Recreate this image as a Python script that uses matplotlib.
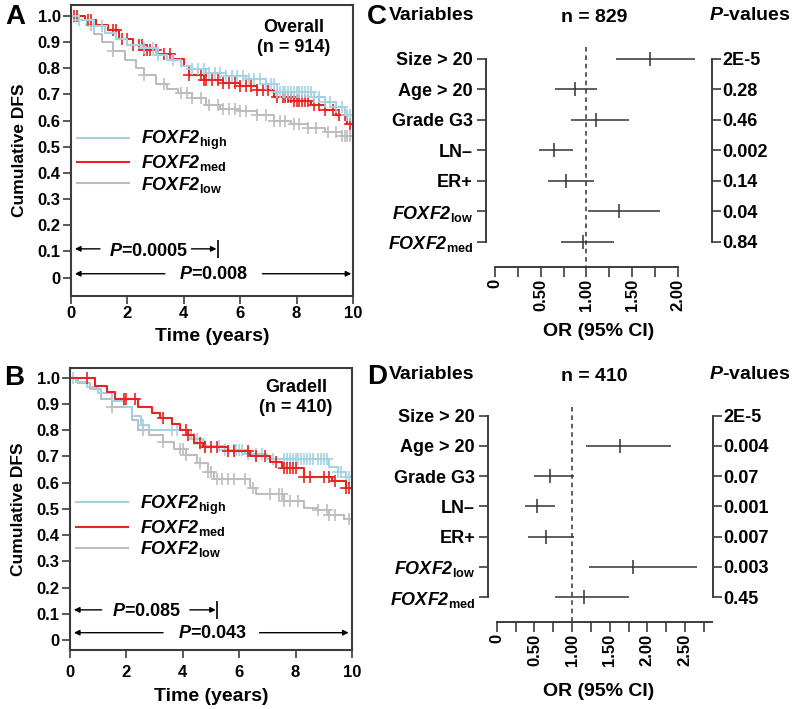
import numpy as np
import matplotlib
matplotlib.use("Agg")
import matplotlib.pyplot as plt
from matplotlib.lines import Line2D

plt.rcParams['font.family'] = ['Liberation Sans', 'DejaVu Sans']
plt.rcParams['font.weight'] = 'bold'
plt.rcParams['mathtext.fontset'] = 'custom'
plt.rcParams['mathtext.rm'] = 'Liberation Sans'
plt.rcParams['mathtext.it'] = 'Liberation Sans:italic'
plt.rcParams['mathtext.bf'] = 'Liberation Sans:bold'
plt.rcParams['mathtext.bfit'] = 'Liberation Sans:italic:bold'

# ---------------- Kaplan-Meier data ----------------
A_high_t = [0, 0.3, 0.8, 1.2, 1.6, 2.0, 2.5, 3.0, 3.4, 3.9, 4.3, 4.8, 5.5, 6.2, 6.9, 7.3, 8.6, 9.0, 9.4, 9.7]
A_high_s = [1.0, 0.985, 0.96, 0.935, 0.91, 0.89, 0.875, 0.85, 0.83, 0.81, 0.795, 0.78, 0.77, 0.76, 0.74, 0.71, 0.69, 0.67, 0.65, 0.62]
A_med_t = [0, 0.5, 0.9, 1.3, 1.7, 2.2, 2.6, 3.1, 3.6, 4.0, 4.2, 4.7, 5.4, 6.0, 6.6, 7.2, 7.9, 8.5, 9.0, 9.4, 9.8]
A_med_s = [1.0, 0.985, 0.965, 0.945, 0.91, 0.89, 0.87, 0.855, 0.835, 0.81, 0.775, 0.755, 0.745, 0.73, 0.715, 0.69, 0.675, 0.66, 0.64, 0.62, 0.585]
A_low_t = [0, 0.3, 0.55, 0.8, 1.1, 1.5, 1.9, 2.3, 2.6, 3.0, 3.4, 3.8, 4.3, 4.8, 5.3, 6.0, 6.6, 7.2, 7.8, 8.4, 9.0, 9.6]
A_low_s = [1.0, 0.985, 0.965, 0.93, 0.9, 0.865, 0.83, 0.80, 0.775, 0.74, 0.72, 0.705, 0.685, 0.66, 0.645, 0.635, 0.62, 0.60, 0.585, 0.57, 0.555, 0.54]

A_high_cens = [0.3, 0.8, 1.1, 2.6, 2.9, 3.1, 3.6, 4.3, 4.5, 4.7, 4.9, 5.1, 5.3, 5.5, 5.7, 5.9, 6.1, 6.3,
               6.5, 6.7, 6.9, 7.1, 7.2, 7.3, 7.4, 7.5, 7.6, 7.7, 7.8, 7.9, 8.0, 8.1, 8.2, 8.3, 8.4,
               8.5, 8.6, 8.8, 9.0, 9.2, 9.4, 9.6, 9.8, 9.9]
A_med_cens = [0.1, 0.2, 0.6, 0.7, 1.5, 1.6, 1.8, 2.0, 2.2, 2.4, 2.5, 2.6, 2.7, 2.8, 3.0, 3.3, 3.5,
              4.2, 4.6, 4.7, 4.8, 5.0, 5.2, 5.4, 5.6, 5.8, 6.0, 6.2, 6.4, 6.6, 6.8, 7.0, 7.3, 7.5,
              7.6, 7.7, 7.8, 7.9, 8.0, 8.1, 8.2, 8.3, 8.4, 8.6, 8.8, 9.0, 9.3, 9.5, 9.7, 9.9]
A_low_cens = [0.2, 0.7, 1.5, 2.6, 3.3, 3.9, 4.1, 4.3, 4.6, 4.9, 5.2, 5.4, 5.6, 5.8, 6.0, 6.2, 6.6,
              6.9, 7.2, 7.4, 7.6, 7.9, 8.1, 8.4, 8.7, 9.1, 9.4, 9.6, 9.7, 9.8, 9.9]

B_high_t = [0, 0.2, 0.6, 1.0, 1.5, 1.9, 2.2, 2.5, 2.8, 4.3, 4.7, 5.5, 6.2, 7.0, 9.2, 9.5, 9.8]
B_high_s = [1.0, 0.985, 0.965, 0.94, 0.91, 0.89, 0.855, 0.82, 0.80, 0.765, 0.74, 0.725, 0.71, 0.69, 0.66, 0.64, 0.62]
B_med_t = [0, 0.9, 1.3, 1.6, 2.4, 2.9, 3.2, 3.6, 3.9, 4.2, 4.4, 4.7, 5.6, 6.4, 7.1, 7.5, 8.3, 9.3, 9.8]
B_med_s = [1.0, 0.97, 0.945, 0.92, 0.89, 0.865, 0.845, 0.825, 0.80, 0.78, 0.75, 0.735, 0.72, 0.70, 0.68, 0.655, 0.62, 0.605, 0.58]
B_low_t = [0, 0.3, 0.7, 1.1, 1.5, 2.2, 2.4, 2.8, 3.3, 3.7, 4.1, 4.5, 4.9, 5.1, 6.4, 6.6, 7.6, 8.3, 8.8, 9.2, 9.7]
B_low_s = [1.0, 0.98, 0.955, 0.92, 0.89, 0.84, 0.80, 0.78, 0.755, 0.73, 0.705, 0.675, 0.64, 0.615, 0.58, 0.555, 0.53, 0.505, 0.495, 0.475, 0.46]

B_high_cens = [0.1, 2.6, 3.6, 3.8, 4.4, 4.5, 4.8, 5.3, 5.5, 5.8, 5.9, 6.0, 6.1, 6.3, 6.6, 6.8, 7.2,
               7.6, 7.7, 7.8, 7.9, 8.0, 8.1, 8.2, 8.3, 8.4, 8.5, 8.6, 8.8, 8.9, 9.0, 9.1, 9.5, 9.6, 9.8, 9.9]
B_med_cens = [0.6, 1.9, 2.0, 2.3, 3.3, 4.1, 4.2, 4.6, 4.8, 5.0, 5.2, 5.6, 5.8, 6.3, 6.6, 6.9, 7.3,
              7.6, 7.7, 7.8, 7.9, 8.0, 8.3, 8.5, 9.0, 9.2, 9.4, 9.8, 9.9]
B_low_cens = [1.5, 2.6, 3.3, 3.9, 4.0, 4.1, 4.6, 4.9, 5.0, 5.2, 5.4, 5.6, 5.8, 6.2, 6.5, 7.1, 7.4,
              7.5, 7.6, 7.8, 8.1, 8.8, 9.1, 9.2, 9.4, 9.9]

# ---------------- forest plot data ----------------
variables = ['Size > 20', 'Age > 20', 'Grade G3', 'LN\u2013', 'ER+',
             r'$\mathbfit{FOXF2}_{\mathbf{low}}$', r'$\mathbfit{FOXF2}_{\mathbf{med}}$']
C_or = [1.69, 0.87, 1.11, 0.645, 0.78, 1.355, 0.965]
C_lo = [1.32, 0.66, 0.83, 0.485, 0.575, 1.02, 0.725]
C_hi = [2.19, 1.12, 1.47, 0.85, 1.08, 1.80, 1.30]
C_p = ['2E-5', '0.28', '0.46', '0.002', '0.14', '0.04', '0.84']

D_or = [np.nan, 1.64, 0.71, 0.54, 0.655, 1.81, 1.16]
D_lo = [np.nan, 1.18, 0.49, 0.37, 0.42, 1.23, 0.77]
D_hi = [np.nan, 2.31, 1.03, 0.78, 1.03, 2.66, 1.76]
D_p = ['2E-5', '0.004', '0.07', '0.001', '0.007', '0.003', '0.45']

C_blue = '#a3d2e3'
C_red = '#e62420'
C_gray = '#bdbdbd'
DARK = '#3c3c3c'

W, H = 797, 709
fig = plt.figure(figsize=(W / 100, H / 100), dpi=100)


def fr(x0, y0, x1, y1):
    # pixel box -> figure fraction
    return [x0 / W, 1 - y1 / H, (x1 - x0) / W, (y1 - y0) / H]


def surv_at(t_steps, s_steps, tt):
    idx = np.searchsorted(t_steps, tt, side='right') - 1
    return np.asarray(s_steps)[idx]


def km_panel(ax, curves, ylim, note, arrows, leg_y, xpad, xlabpad):
    for t, s, cens, col in curves:
        ax.step(list(t) + [10], list(s) + [s[-1]], where='post', color=col, lw=1.5)
        ax.plot(cens, surv_at(t, s, cens), ls='none', marker='+', ms=8, mew=1.2, color=col)
    ax.set_xlim(0, 10)
    ax.set_ylim(*ylim)
    ax.set_xticks([0, 2, 4, 6, 8, 10])
    ax.set_yticks(np.arange(0, 1.01, 0.1))
    ax.set_yticklabels(['0'] + ['%.1f' % v for v in np.arange(0.1, 1.01, 0.1)])
    ax.tick_params(direction='out', length=5.5, width=1.2, color=DARK, labelsize=12, pad=2)
    ax.tick_params(axis='x', pad=xpad)
    for sp in ax.spines.values():
        sp.set_color(DARK)
        sp.set_linewidth(1.5)
    ax.set_ylabel('Cumulative DFS', fontsize=12.5, fontweight='bold', labelpad=7.5)
    ax.set_xlabel('Time (years)', fontsize=14, fontweight='bold', labelpad=xlabpad)
    ax.text(note[0], note[1], note[2], ha='center', va='center', fontsize=13,
            fontweight='bold', linespacing=1.25)
    handles = [Line2D([], [], color=c, lw=1.5) for c in (C_blue, C_red, C_gray)]
    labels = [r'$\mathbfit{FOXF2}_{\mathbf{high}}$', r'$\mathbfit{FOXF2}_{\mathbf{med}}$',
              r'$\mathbfit{FOXF2}_{\mathbf{low}}$']
    ax.legend(handles, labels, loc='upper left', bbox_to_anchor=(0.02, leg_y), frameon=False,
              fontsize=13, handlelength=2.9, handletextpad=0.65, labelspacing=0.08,
              borderpad=0, borderaxespad=0)
    # p-value arrows
    for (la0, la1, tx, ra0, ra1, bar, ya, yt, lab) in arrows:
        ax.annotate('', xy=(la1, ya), xytext=(la0, ya),
                    arrowprops=dict(arrowstyle='-|>', color='black', lw=1, mutation_scale=8,
                                    shrinkA=0, shrinkB=0))
        ax.annotate('', xy=(ra1, ya), xytext=(ra0, ya),
                    arrowprops=dict(arrowstyle='-|>', color='black', lw=1, mutation_scale=8,
                                    shrinkA=0, shrinkB=0))
        if bar is not None:
            ax.vlines(bar, ya - 0.035, ya + 0.035, color='black', lw=1.2)
        ax.text(tx, yt, r'$\mathbfit{P}$=' + lab, ha='center', va='center', fontsize=13,
                fontweight='bold')


axA = fig.add_axes(fr(71, 5, 353, 296))
km_panel(axA,
         [(A_low_t, A_low_s, A_low_cens, C_gray),
          (A_med_t, A_med_s, A_med_cens, C_red),
          (A_high_t, A_high_s, A_high_cens, C_blue)],
         (-0.07, 1.041), (7.9, 0.918, 'Overall\n(n = 914)'),
         [(1.03, 0.14, 2.76, 4.27, 5.16, 5.22, 0.11, 0.10, '0.0005'),
          (3.33, 0.14, 5.07, 6.79, 9.94, None, 0.015, 0.012, '0.008')],
         0.575, 2, 4.6)

axB = fig.add_axes(fr(70, 367.7, 352, 650))
km_panel(axB,
         [(B_low_t, B_low_s, B_low_cens, C_gray),
          (B_high_t, B_high_s, B_high_cens, C_blue),
          (B_med_t, B_med_s, B_med_cens, C_red)],
         (-0.038, 1.038), (8.02, 0.925, 'Gradell\n(n = 410)'),
         [(1.12, 0.14, 2.71, 4.25, 5.17, 5.2, 0.115, 0.11, '0.085'),
          (3.3, 0.14, 5.04, 6.72, 9.88, None, 0.028, 0.025, '0.043')],
         0.555, 5.5, 5.5)


def forest_panel(ax, orr, lo, hi, pvals, xlim, xmax_axis, major, minor, dash_top):
    rows = np.arange(1, 8)
    orr = np.asarray(orr)
    lo = np.asarray(lo)
    hi = np.asarray(hi)
    ax.set_xlim(*xlim)
    ax.set_ylim(7.81, 0.6)
    ax.vlines(1.0, dash_top, 7.81, colors='#333333', linestyles=(0, (3, 2.5)), lw=1.1)
    ax.errorbar(orr, rows, xerr=[orr - lo, hi - orr], fmt='|', ms=10, mew=1.1,
                color='#333333', ecolor='#333333', elinewidth=1.1, capsize=0)
    ax.set_yticks(rows)
    ax.set_yticklabels(variables)
    ax.set_xticks(major)
    ax.set_xticklabels(['0'] + ['%.2f' % v for v in major[1:]], rotation=90)
    ax.set_xticks(minor, minor=True)
    ax.tick_params(axis='x', which='both', direction='out', length=7, width=1.2,
                   color=DARK, labelsize=12, pad=2)
    ax.tick_params(axis='y', direction='out', length=6.5, width=1.2, color=DARK,
                   labelsize=13, pad=3)
    ax.spines['top'].set_visible(False)
    ax.spines['right'].set_visible(False)
    ax.spines['left'].set_bounds(1, 7)
    ax.spines['bottom'].set_bounds(0, xmax_axis)
    for sp in ('left', 'bottom'):
        ax.spines[sp].set_color(DARK)
        ax.spines[sp].set_linewidth(1.4)
    tw = ax.twinx()
    tw.set_ylim(ax.get_ylim())
    tw.set_yticks(rows)
    tw.set_yticklabels(pvals)
    tw.tick_params(axis='y', direction='out', length=6.5, width=1.2, color=DARK,
                   labelsize=13, pad=1)
    for sp in ('left', 'top', 'bottom'):
        tw.spines[sp].set_visible(False)
    tw.spines['right'].set_bounds(1, 7)
    tw.spines['right'].set_color(DARK)
    tw.spines['right'].set_linewidth(1.4)


axC = fig.add_axes(fr(486, 46.8, 711.7, 266.7))
forest_panel(axC, C_or, C_lo, C_hi, C_p, (-0.098, 2.37), 2.0,
             [0, 0.5, 1.0, 1.5, 2.0], [0.25, 0.75, 1.25, 1.75], 0.6)

axD = fig.add_axes(fr(488.3, 403.6, 713.3, 621.7))
forest_panel(axD, D_or, D_lo, D_hi, D_p, (-0.112, 2.876), 2.86,
             [0, 0.5, 1.0, 1.5, 2.0, 2.5], [0.25, 0.75, 1.25, 1.75, 2.25, 2.75], 0.7)

# headers and labels
for (yhead, ncount, ylab) in [(15, 'n = 829', 332), (375, 'n = 410', 691.5)]:
    fig.text(389 / W, 1 - yhead / H, 'Variables', ha='left', va='center', fontsize=14, fontweight='bold')
    fig.text(594 / W, 1 - (yhead + 2) / H, ncount, ha='center', va='center', fontsize=14, fontweight='bold')
    fig.text(709 / W, 1 - yhead / H, r'$\mathbfit{P}$-values', ha='left', va='center', fontsize=14,
             fontweight='bold')
    fig.text(599 / W, 1 - ylab / H, 'OR (95% CI)', ha='center', va='center', fontsize=14, fontweight='bold')

for (lx, ly, letter) in [(15, 17.5, 'A'), (14.5, 378, 'B'), (377, 17, 'C'), (377, 377, 'D')]:
    fig.text(lx / W, 1 - ly / H, letter, ha='center', va='center', fontsize=20, fontweight='bold')

fig.savefig('out.png', dpi=100)
